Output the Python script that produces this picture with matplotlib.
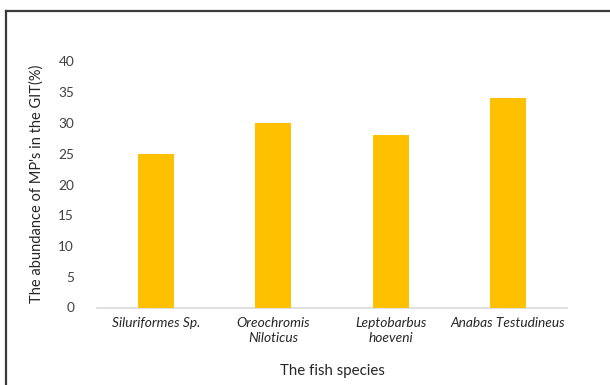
import matplotlib
matplotlib.use("Agg")
import matplotlib.pyplot as plt
from matplotlib.lines import Line2D

species = ["Siluriformes Sp.", "Oreochromis\nNiloticus", "Leptobarbus\nhoeveni", "Anabas Testudineus"]
abundance = [25, 30, 28, 34]
y_ticks = [0, 5, 10, 15, 20, 25, 30, 35, 40]

plt.rcParams['font.family'] = ['Lato', 'DejaVu Sans']

W, H = 610, 385
fig = plt.figure(figsize=(W / 100, H / 100), dpi=100)
ax = fig.add_axes([97 / W, 1 - 307.5 / H, 470 / W, 246 / H])

x = range(len(species))
ax.bar(x, abundance, width=0.31, color="#FFC000", zorder=3)

ax.set_xlim(-0.5, len(species) - 0.5)
ax.set_ylim(0, 40)
ax.set_yticks(y_ticks)
ax.set_xticks(list(x))
ax.set_xticklabels(species, style="italic", fontsize=9.9, color="#262626", linespacing=1.3)
ax.tick_params(axis="y", labelsize=9.8, labelcolor="#404040", length=0, pad=16.5)
ax.tick_params(axis="x", length=0, pad=7)

for side in ["top", "right", "left"]:
    ax.spines[side].set_visible(False)
ax.spines["bottom"].set_color("#D9D9D9")
ax.spines["bottom"].set_linewidth(1.2)

ax.set_ylabel("The abundance of MP's in the GIT(%)", fontsize=10.5, color="#262626", va="center")
ax.yaxis.set_label_coords((37 - 97) / 470, (307.5 - 184) / 246)
fig.text(332 / W, 1 - 371 / H, "The fish species", ha="center", va="center", fontsize=10.8, color="#262626")

# outer frame lines along top and left edges
fig.add_artist(Line2D([5.5 / W, 1], [1 - 10.5 / H, 1 - 10.5 / H], transform=fig.transFigure, color="#3a3a3a", lw=1.6))
fig.add_artist(Line2D([5.5 / W, 5.5 / W], [0, 1 - 10.5 / H], transform=fig.transFigure, color="#3a3a3a", lw=1.6))

fig.savefig("out.png", dpi=100)
